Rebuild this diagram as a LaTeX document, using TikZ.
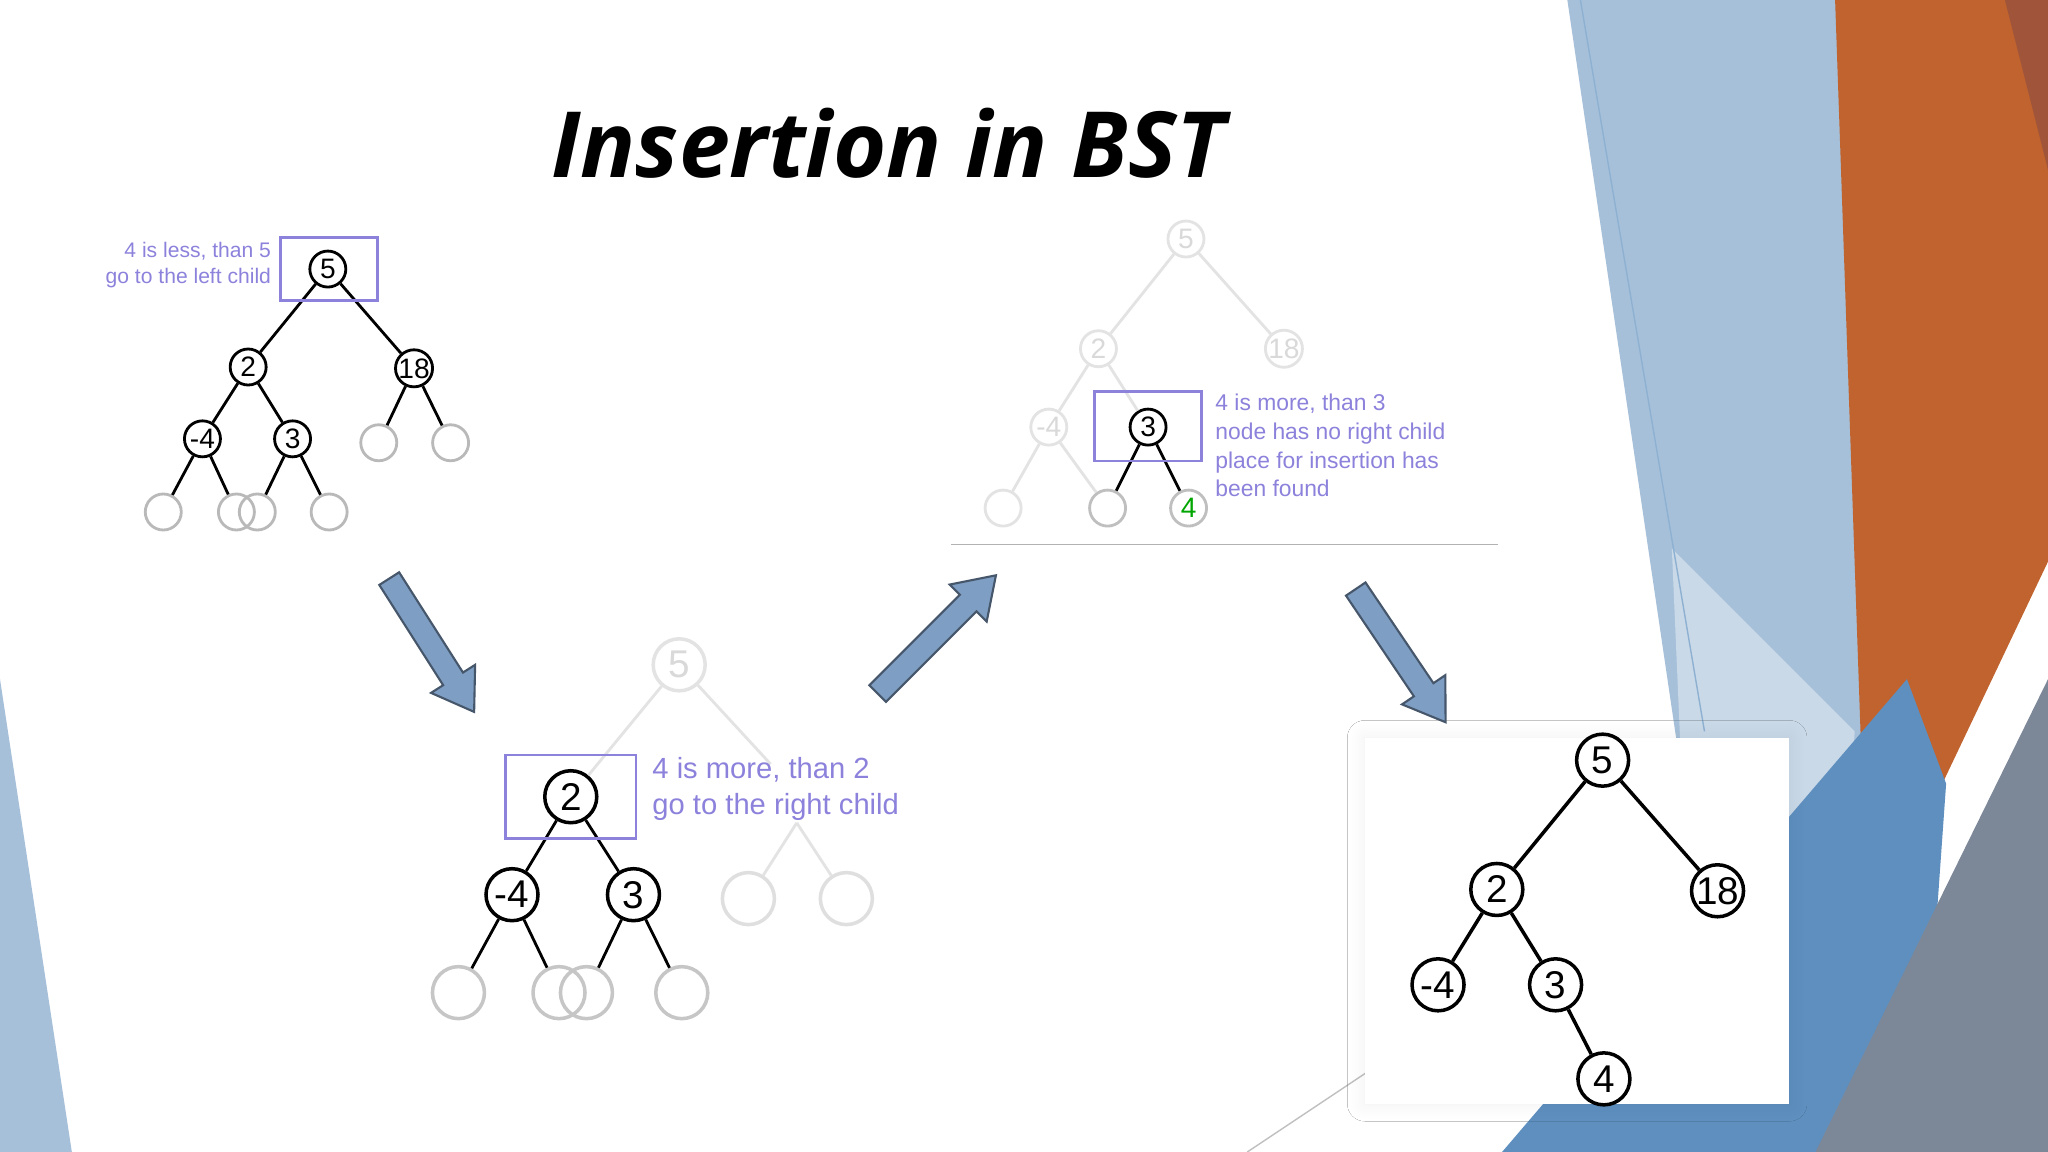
\documentclass[tikz,border=0pt]{standalone}
\usepackage{fontspec}
\setmainfont{Liberation Sans}
\newfontfamily\titlefont{Open Sans}
\usetikzlibrary{shadows.blur}
\definecolor{lab}{HTML}{8C82DC}
\definecolor{arr}{HTML}{7F9EC3}
\definecolor{pb}{HTML}{A6C0D9}
\definecolor{pb2}{HTML}{C9D9E8}
\definecolor{sb}{HTML}{5E8FBF}
\definecolor{org}{HTML}{C0632E}
\definecolor{brn}{HTML}{A0553A}
\definecolor{gb}{HTML}{7C8798}
\newcommand\blockarrow[4]{%
 \begin{scope}[shift={#1},rotate=#2]
 \filldraw[draw=arr!55!black,fill=arr,line width=0.6pt] (0,-9) -- (#3-30,-9) -- (#3-30,-20) -- (#3,0) -- (#3-30,20) -- (#3-30,9) -- (0,9) -- cycle;
 \coordinate (#4) at (#3,0);
 \end{scope}}
\begin{document}
\begin{tikzpicture}[x=0.013061cm,y=-0.013061cm,
 sn/.style={circle,draw,line width=0.8pt,minimum size=0.36cm,inner sep=0pt,font=\fontsize{8}{8}\selectfont},
 bn/.style={circle,draw,line width=1pt,minimum size=0.52cm,inner sep=0pt,font=\fontsize{11}{11}\selectfont},
 fd/.style={draw=gray!22,text=gray!30},
 ed/.style={line width=0.8pt},
 fe/.style={line width=0.8pt,draw=gray!22},
 bx/.style={draw=lab,line width=0.8pt}]
\useasboundingbox (0,0) rectangle (1568,882);
\fill[white] (0,0) rectangle (1568,882);
% decoration
\fill[pb] (1200,0) -- (1410,0) -- (1490,560) -- (1450,882) -- (1330,882) -- cycle;
\fill[pb2] (1280,420) -- (1420,560) -- (1400,882) -- (1300,882) -- cycle;
\fill[org] (1405,0) -- (1568,0) -- (1568,430) -- (1430,720) -- cycle;
\fill[brn] (1535,0) -- (1568,0) -- (1568,130) -- cycle;
\fill[sb] (1150,882) -- (1460,520) -- (1490,600) -- (1470,882) -- cycle;
\fill[gb] (1390,882) -- (1568,520) -- (1568,882) -- cycle;
\fill[pb] (0,520) -- (55,882) -- (0,882) -- cycle;
\draw[sb!70] (1210,0) -- (1305,560);
\draw[gray!50] (955,882) -- (1048,820);
% title
\node (title) at (680,110) {\titlefont\fontsize{26}{30}\selectfont\bfseries\itshape Insertion in BST};
% tree 1
\node[sn] (a5) at (251,206) {5};
\node[sn] (a2) at (190,281) {2};
\node[sn] (a18) at (317,282) {18};
\node[sn] (am4) at (155,336) {-4};
\node[sn] (a3) at (224,336) {3};
\node[sn,draw=gray!55] (ae1) at (290,339) {};
\node[sn,draw=gray!55] (ae2) at (345,339) {};
\node[sn,draw=gray!55] (al1) at (125,392) {};
\node[sn,draw=gray!55] (al2) at (181,392) {};
\node[sn,draw=gray!55] (al3) at (197,392) {};
\node[sn,draw=gray!55] (al4) at (252,392) {};
\draw[ed] (a5)--(a2) (a5)--(a18) (a2)--(am4) (a2)--(a3) (a18)--(ae1) (a18)--(ae2) (am4)--(al1) (am4)--(al2) (a3)--(al3) (a3)--(al4);
\draw[bx] (215,182) rectangle (289,230);
\node[text=lab,align=right,anchor=east,inner sep=0pt,font=\fontsize{6}{7.6}\selectfont] (t1) at (208,203) {4 is less, than 5\\go to the left child};
% tree 2
\node[bn,fd] (b5) at (520,509) {5};
\node[bn] (b2) at (437,610) {2};
\node[bn] (bm4) at (392,685) {-4};
\node[bn] (b3) at (485,685) {3};
\node[bn,draw=gray!45] (bl1) at (351,760) {};
\node[bn,draw=gray!45] (bl2) at (428,760) {};
\node[bn,draw=gray!45] (bl3) at (449,760) {};
\node[bn,draw=gray!45] (bl4) at (522,760) {};
\node[bn,draw=gray!25] (be1) at (573,688) {};
\node[bn,draw=gray!25] (be2) at (648,688) {};
\coordinate (b18) at (610,630);
\draw[fe] (b5)--(b2) (b5)--(590,585) (b18)--(be1) (b18)--(be2);
\draw[ed] (b2)--(bm4) (b2)--(b3) (bm4)--(bl1) (bm4)--(bl2) (b3)--(bl3) (b3)--(bl4);
\draw[bx] (387,578) rectangle (487,642);
\node[text=lab,align=left,anchor=west,inner sep=0pt,font=\fontsize{8.3}{10.3}\selectfont] (t2) at (499,604) {4 is more, than 2\\go to the right child};
% tree 3
\node[sn,fd] (c5) at (908,183) {5};
\node[sn,fd] (c2) at (841,267) {2};
\node[sn,fd] (c18) at (983,267) {18};
\node[sn,fd] (cm4) at (803,327) {-4};
\node[sn] (c3) at (879,327) {3};
\node[sn,draw=gray!22] (cl1) at (768,389) {};
\node[sn,draw=gray!50] (cl2) at (848,389) {};
\node[sn,draw=gray!50,text=green!65!black] (c4) at (910,389) {4};
\draw[fe] (c5)--(c2) (c5)--(c18) (c2)--(cm4) (c2)--(c3) (cm4)--(cl1) (cm4)--(cl2);
\draw[ed] (c3)--(cl2) (c3)--(c4);
\draw[bx] (838,300) rectangle (920,353);
\node[text=lab,align=left,anchor=north west,font=\fontsize{6.5}{8.2}\selectfont,inner sep=0pt] (t3) at (930,301) {4 is more, than 3\\node has no right child\\place for insertion has\\been found};
\draw[gray!60] (728,417) -- (1147,417);
% tree 4
\fill[white,blur shadow={shadow blur steps=8,shadow xshift=0pt,shadow yshift=0pt,shadow blur radius=5pt,shadow opacity=6}] (1045,565) rectangle (1370,845);
\node[bn] (d5) at (1227,582) {5};
\node[bn] (d2) at (1146,681) {2};
\node[bn] (d18) at (1315,682) {18};
\node[bn] (dm4) at (1101,754) {-4};
\node[bn] (d3) at (1191,754) {3};
\node[bn] (d4) at (1228,826) {4};
\draw[ed,line width=1pt] (d5)--(d2) (d5)--(d18) (d2)--(dm4) (d2)--(d3) (d3)--(d4);
% arrows
\blockarrow{(298,443)}{-57.5}{121}{ar1}
\blockarrow{(672,531)}{45}{128}{ar2}
\blockarrow{(1038,451)}{-56}{123}{ar3}
\end{tikzpicture}
\end{document}
